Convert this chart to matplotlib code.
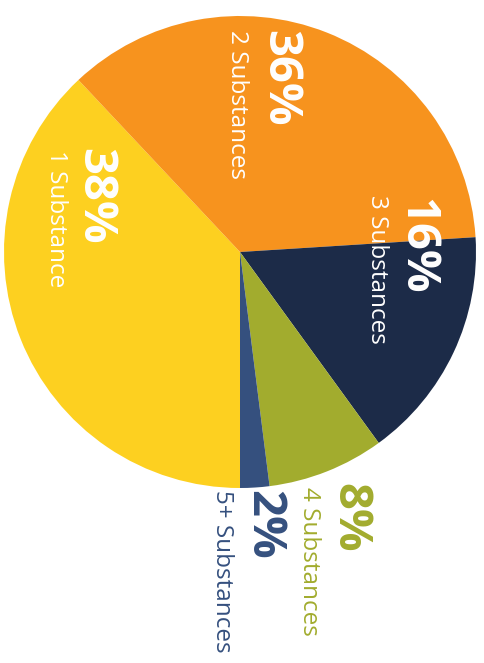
import matplotlib
matplotlib.use("Agg")
from matplotlib import pyplot as plt

# data (clockwise from the bottom)
labels = ["1 Substance", "2 Substances", "3 Substances", "4 Substances", "5+ Substances"]
shares = [38, 36, 16, 8, 2]
colors = ["#FDD020", "#F7931E", "#1C2B48", "#A2AC2E", "#35507E"]
pct_colors = ["white", "white", "white", "#A2AC2E", "#35507E"]
name_colors = ["white", "white", "white", "#A2AC2E", "#35507E"]

W, H = 485, 663
cx, cy, R = 240, 252, 236

fig = plt.figure(figsize=(W / 100, H / 100), dpi=100)
ax = fig.add_axes([(cx - R) / W, (H - cy - R) / H, 2 * R / W, 2 * R / H])
ax.pie(shares, colors=colors, startangle=270, counterclock=False, radius=1,
       wedgeprops=dict(linewidth=0))
ax.set_xlim(-1, 1)
ax.set_ylim(-1, 1)
ax.axis("off")


def px(x, y):
    # pixel position -> data coords
    return (x - cx) / R, (cy - y) / R


# label spots in pixels: (pct x, pct top, name x, name top)
spots = [
    (95, 148, 56, 150),
    (280, 30, 237, 30),
    (417, 198, 377, 195),
    (350, 483, 309, 487),
    (264, 490, 222, 490),
]

for lab, s, pc, nc, (x1, y1, x2, y2) in zip(labels, shares, pct_colors, name_colors, spots):
    ax.text(*px(x1, y1), f"{s}%", rotation=270, ha="center", va="top",
            color=pc, fontsize=34, fontweight="bold", family="Open Sans",
            clip_on=False)
    ax.text(*px(x2, y2), lab, rotation=270, ha="center", va="top",
            color=nc, fontsize=17.5, family="Open Sans", clip_on=False)

plt.savefig("out.png", dpi=100)
